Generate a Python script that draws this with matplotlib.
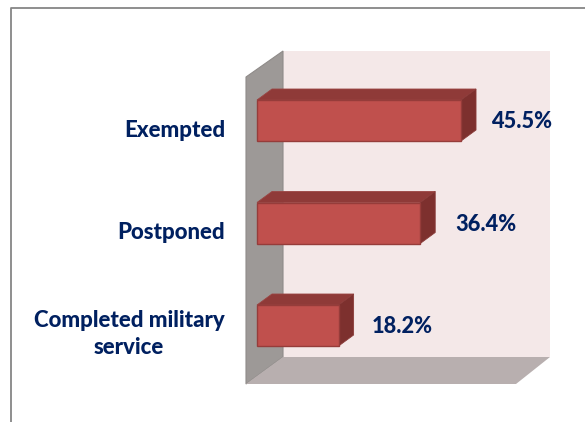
import matplotlib
matplotlib.use('Agg')
import matplotlib.pyplot as plt
from matplotlib.patches import Polygon

categories = ['Completed military\nservice', 'Postponed', 'Exempted']
values = [18.2, 36.4, 45.5]
labels = ['18.2%', '36.4%', '45.5%']

W, H = 585, 422
navy = '#002060'
plt.rcParams['font.family'] = ['Lato', 'DejaVu Sans']

fig = plt.figure(figsize=(W / 100, H / 100), dpi=100)

# pixel layer for the box walls and frame
bg = fig.add_axes([0, 0, 1, 1])
bg.set_xlim(0, W)
bg.set_ylim(H, 0)
bg.axis('off')
bg.add_patch(Polygon([(283, 51), (550, 51), (550, 357), (283, 357)], fc='#f4e8e8', ec='none'))
bg.add_patch(Polygon([(246, 77), (283, 51), (283, 357), (246, 384)], fc='#9d9997', ec='#8f8b89', lw=0.8))
bg.add_patch(Polygon([(246, 384), (283, 357), (550, 357), (516, 384)], fc='#b8afaf', ec='none'))
bg.plot([10.5, 10.5, W], [H, 7.5, 7.5], color='#868686', lw=1.3, solid_capstyle='butt')

# bars in data units: 4.484 px per percent, 102.5 px per category
px_x = 4.484
px_y = 102.5
ax = fig.add_axes([0, 0, 1, 1])
ax.patch.set_alpha(0)
ax.set_xlim(-257 / px_x, (W - 257) / px_x)
ax.set_ylim((325.5 - H) / px_y, 325.5 / px_y)
ax.axis('off')

dx = 15 / px_x
dy = 11 / px_y
hh = 20.5 / px_y
for i, v in enumerate(values):
    ax.add_patch(Polygon([(0, i + hh), (dx, i + hh + dy), (v + dx, i + hh + dy), (v, i + hh)],
                         fc='#8f3a38', ec='#9a4442', lw=0.6))
    ax.add_patch(Polygon([(v, i + hh), (v + dx, i + hh + dy), (v + dx, i - hh + dy), (v, i - hh)],
                         fc='#7d302e', ec='#8a3b39', lw=0.6))
ax.barh(range(len(values)), values, height=2 * hh, color='#c0504d', edgecolor='#963c3a', linewidth=1.0)

label_gap = [33, 35, 30]
for i, (c, v, l) in enumerate(zip(categories, values, labels)):
    ax.text(v + label_gap[i] / px_x, i - 0.01, l, color=navy, fontsize=15.7, fontweight=900,
            ha='left', va='center')
    if '\n' in c:
        ax.text(-128 / px_x, i - 0.08, c, color=navy, fontsize=16, fontweight=900,
                ha='center', va='center', linespacing=1.35)
    else:
        ax.text(-32 / px_x, i - 0.095, c, color=navy, fontsize=16, fontweight=900,
                ha='right', va='center')

fig.savefig('out.png', dpi=100)
